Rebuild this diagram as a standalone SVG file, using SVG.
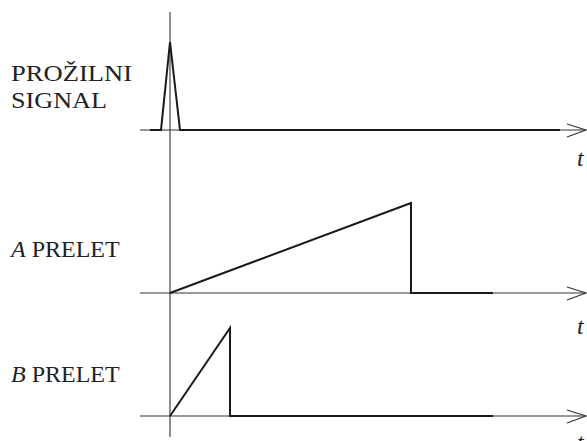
<svg xmlns="http://www.w3.org/2000/svg" width="587" height="441" viewBox="0 0 587 441">
<style>
.axis{stroke:#333;stroke-width:1.1;fill:none}
.sig{stroke:#1a1a1a;stroke-width:2;fill:none;stroke-linejoin:miter}
.lbl{font-family:"Liberation Serif","Times New Roman",serif;font-size:24px;fill:#222}
.it{font-style:italic}
</style>
<g id="axes">
<line class="axis" x1="170" y1="12" x2="170" y2="437"/>
<line class="axis" x1="140" y1="130" x2="586" y2="130"/>
<polyline class="axis" points="567,124 586,130 567,137"/>
<line class="axis" x1="140" y1="293" x2="586" y2="293"/>
<polyline class="axis" points="567,287 586,293 567,300"/>
<line class="axis" x1="140" y1="416" x2="586" y2="416"/>
<polyline class="axis" points="567,410 586,416 567,423"/>
</g>
<g id="signal-trigger">
<polyline class="sig" points="150,130 161,130 170,42 180,130 560,130"/>
</g>
<g id="signal-a">
<polyline class="sig" points="170,293 411,203 411,293 493,293"/>
</g>
<g id="signal-b">
<polyline class="sig" points="170,416 230,328 230,416 493,416"/>
</g>
<g id="labels">
<text class="lbl" x="11" y="81" textLength="121" lengthAdjust="spacingAndGlyphs">PROŽILNI</text>
<text class="lbl" x="11" y="108" textLength="96" lengthAdjust="spacingAndGlyphs">SIGNAL</text>
<text class="lbl" x="11" y="257"><tspan class="it">A</tspan> PRELET</text>
<text class="lbl" x="11" y="382"><tspan class="it">B</tspan> PRELET</text>
<text class="lbl it" x="577" y="166">t</text>
<text class="lbl it" x="577" y="334">t</text>
<text class="lbl it" x="577" y="450">t</text>
</g>
</svg>
